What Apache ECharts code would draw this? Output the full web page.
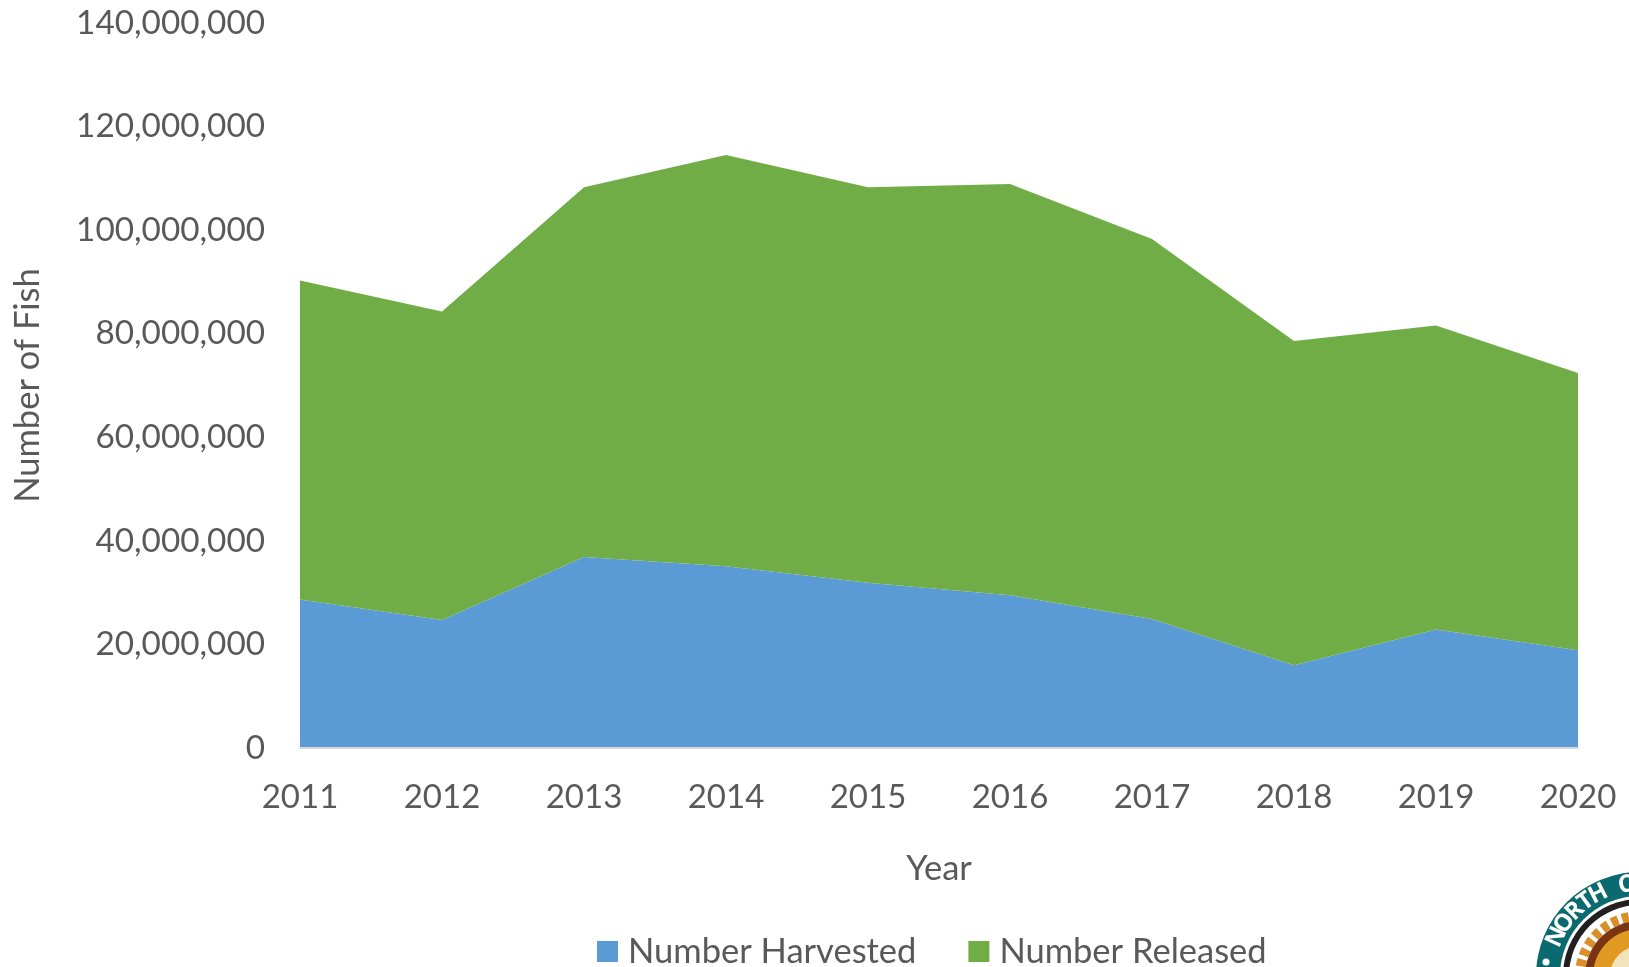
<!DOCTYPE html>
<html>
<head>
<meta charset="utf-8">
<style>
  html, body { margin: 0; padding: 0; background: #fff; }
  #main { width: 1629px; height: 967px; }
</style>
<script src="https://cdn.jsdelivr.net/npm/echarts@6/dist/echarts.min.js"></script>
</head>
<body>
<div id="main"></div>
<script>
const years = ["2011", "2012", "2013", "2014", "2015", "2016", "2017", "2018", "2019", "2020"];
const harvested = [28700000, 24700000, 36900000, 35100000, 31900000, 29500000, 24900000, 16000000, 22900000, 18900000];
const released = [61600000, 59600000, 71400000, 79400000, 76400000, 79400000, 73400000, 62600000, 58700000, 53500000];

const textColor = "#595959";
const fontName = "Lato";
const logoX = 1640;
const logoY = 976;
// badge lettering: letter and its angle above the horizontal
const logoLetters = [["N", 25], ["O", 35], ["R", 45], ["T", 54], ["H", 63], ["C", 81]];

function ring(r, fill) {
  return { type: "circle", shape: { cx: logoX, cy: logoY, r: r }, style: { fill: fill }, silent: true };
}

const chart = echarts.init(document.getElementById("main"));
chart.setOption({
  animation: false,
  textStyle: { fontFamily: fontName },
  grid: { left: 300, right: 51, top: 23, bottom: 219, outerBoundsMode: "none" },
  legend: {
    bottom: -7,
    left: 592,
    itemWidth: 21,
    itemHeight: 21,
    itemGap: 52,
    icon: "rect",
    textStyle: { color: textColor, fontSize: 34.5, fontFamily: fontName, padding: [0, 0, 0, 5] },
    data: ["Number Harvested", "Number Released"]
  },
  xAxis: {
    type: "category",
    boundaryGap: false,
    data: years,
    name: "Year",
    nameLocation: "middle",
    nameGap: 103,
    nameTextStyle: { color: textColor, fontSize: 34.5 },
    z: 3,
    axisTick: { show: false },
    axisLine: { lineStyle: { color: "#d9d9d9", width: 2 } },
    axisLabel: { color: textColor, fontSize: 33, margin: 33, hideOverlap: false, interval: 0 }
  },
  yAxis: {
    type: "value",
    min: 0,
    max: 140000000,
    interval: 20000000,
    name: "Number of Fish",
    nameLocation: "middle",
    nameGap: 255,
    nameTextStyle: { color: textColor, fontSize: 34.5 },
    axisLine: { show: false },
    axisTick: { show: false },
    splitLine: { show: false },
    axisLabel: {
      color: textColor,
      fontSize: 33.3,
      margin: 35,
      padding: [3, 0, 0, 0],
      formatter: function (v) { return v.toLocaleString("en-US"); }
    }
  },
  series: [
    {
      name: "Number Harvested",
      type: "line",
      stack: "fish",
      data: harvested,
      symbol: "none",
      lineStyle: { width: 0 },
      itemStyle: { color: "#5b9bd5" },
      areaStyle: { color: "#5b9bd5", opacity: 1 }
    },
    {
      name: "Number Released",
      type: "line",
      stack: "fish",
      data: released,
      symbol: "none",
      lineStyle: { width: 0 },
      itemStyle: { color: "#70ad47" },
      areaStyle: { color: "#70ad47", opacity: 1 }
    }
  ],
  graphic: [
    ring(104, "#0b6a70"),
    ring(80, "#ffffff"),
    ring(77, "#231f20"),
    ring(71, "#ffffff"),
    {
      type: "circle",
      shape: { cx: logoX, cy: logoY, r: 60 },
      style: { fill: "none", stroke: "#d9902a", lineWidth: 10, lineDash: [7, 4] },
      silent: true
    },
    ring(55, "#7a3413"),
    ring(47, "#e09a22"),
    ring(30, "#f3e3bd"),
    { type: "circle", shape: { cx: 1546, cy: 962, r: 3.5 }, style: { fill: "#ffffff" }, silent: true }
  ].concat(logoLetters.map(function (l) {
    const a = l[1] * Math.PI / 180;
    return {
      type: "text",
      x: logoX - 92 * Math.cos(a),
      y: logoY - 92 * Math.sin(a),
      rotation: (90 - l[1]) * Math.PI / 180,
      style: {
        text: l[0],
        fill: "#ffffff",
        font: "bold 24px 'Open Sans'",
        align: "center",
        verticalAlign: "middle"
      },
      silent: true
    };
  }))
});
</script>
</body>
</html>
